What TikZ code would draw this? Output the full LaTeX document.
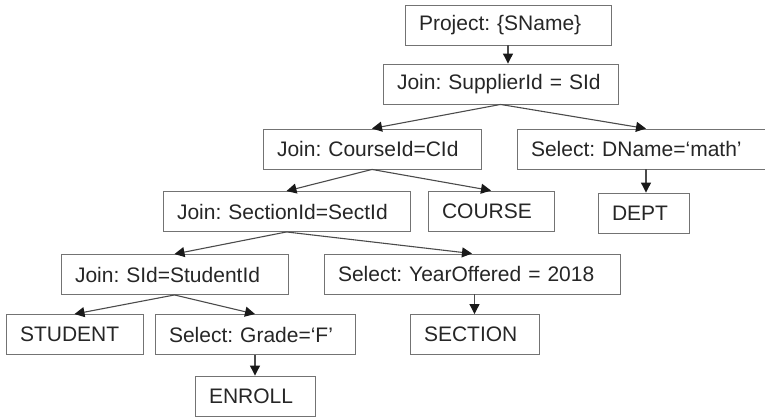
\documentclass[tikz,border=0pt]{standalone}
\usepackage{fontspec}
\setmainfont{Liberation Sans}
\usepackage{xcolor}
\usetikzlibrary{arrows.meta}
\definecolor{boxgray}{RGB}{115,115,115}
\definecolor{linegray}{RGB}{75,75,75}
\frenchspacing

\begin{document}
\begin{tikzpicture}[x=1pt, y=-1pt,
    opbox/.style={draw=boxgray, line width=0.9pt, minimum height=40pt, inner xsep=14pt, inner ysep=0pt, align=left, text=black!85, font=\fontsize{21}{25}\selectfont},
    edge/.style={draw=linegray, line width=1.1pt, -{Triangle[length=10pt,width=10pt,color=black!90]}}]
    \useasboundingbox (0,0) rectangle (765,417);

    % projection and top join
    \node[opbox, text width=178pt] (proj) at (508,25) {Project: \{SName\}};
    \node[opbox, text width=207pt] (joinsup) at (500.5,84) {Join: SupplierId = SId};

    % second level
    \node[opbox, text width=190pt] (joincrs) at (372,149) {Join: CourseId=CId};
    \node[opbox, text width=230pt] (seldept) at (646,149) {Select: DName=‘math’};

    % third level
    \node[opbox, text width=219pt] (joinsec) at (286.5,211.5) {Join: SectionId=SectId};
    \node[opbox, text width=98pt] (course) at (491,211) {COURSE};
    \node[opbox, text width=63pt] (dept) at (643.5,213) {DEPT};

    % fourth level
    \node[opbox, text width=199pt] (joinstu) at (174.5,274.5) {Join: SId=StudentId};
    \node[opbox, text width=268pt] (selyear) at (472,274) {Select: YearOffered = 2018};

    % leaves
    \node[opbox, text width=109pt] (student) at (74.5,334.5) {STUDENT};
    \node[opbox, text width=172pt] (selgrade) at (255,334.5) {Select: Grade=‘F’};
    \node[opbox, text width=101pt] (section) at (474.5,334.5) {SECTION};
    \node[opbox, text width=92pt] (enroll) at (255,396) {ENROLL};

    % connectors
    \draw[edge] (proj.south) -- (proj.south |- joinsup.north);
    \draw[edge] (joinsup.south) -- (joincrs.north);
    \draw[edge] (joinsup.south) -- (seldept.north);
    \draw[edge] (joincrs.south) -- (joinsec.north);
    \draw[edge] (joincrs.south) -- (course.north);
    \draw[edge] (seldept.south) -- (seldept.south |- dept.north);
    \draw[edge] (joinsec.south) -- (joinstu.north);
    \draw[edge] (joinsec.south) -- (selyear.north);
    \draw[edge] (section.north |- selyear.south) -- (section.north);
    \draw[edge] (joinstu.south) -- (student.north);
    \draw[edge] (joinstu.south) -- (selgrade.north);
    \draw[edge] (selgrade.south) -- (enroll.north);
\end{tikzpicture}
\end{document}
